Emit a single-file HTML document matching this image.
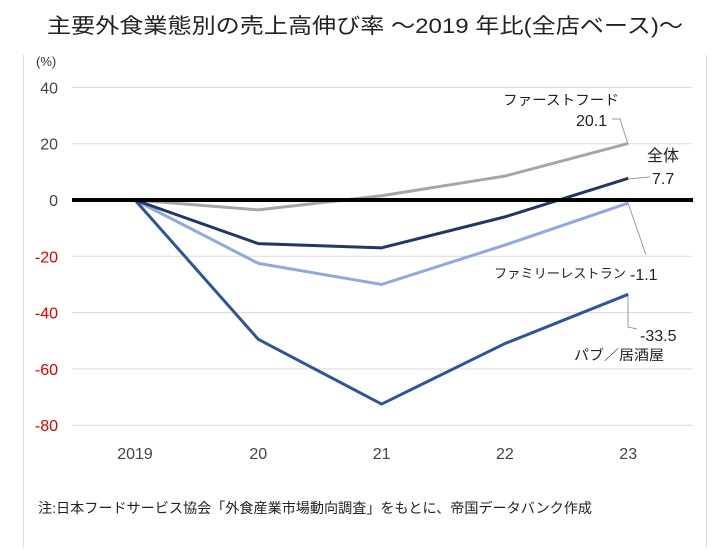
<!DOCTYPE html>
<html><head><meta charset="utf-8"><style>
body{margin:0;background:#fff;width:718px;height:547px;overflow:hidden;font-family:"Liberation Sans","Noto Sans CJK JP",sans-serif}
</style></head><body>
<svg width="718" height="547" viewBox="0 0 718 547" style="font-family:'Liberation Sans','Noto Sans CJK JP',sans-serif">
<text x="47" y="33" font-size="21" fill="#222" textLength="636" lengthAdjust="spacingAndGlyphs">主要外食業態別の売上高伸び率 ～2019 年比(全店ベース)～</text>
<line x1="23.5" y1="55" x2="23.5" y2="547" stroke="#d9d9d9"/>
<line x1="706.5" y1="55" x2="706.5" y2="547" stroke="#d9d9d9"/>
<text x="36" y="66" font-size="13" fill="#333">(%)</text>
<g id="grid"></g><g id="ylab"></g><g id="xlab"></g><g id="lines"></g>
<g font-size="14" fill="#222">
<text x="503" y="105" textLength="116" lengthAdjust="spacingAndGlyphs">ファーストフード</text>
<text x="576" y="126" font-size="16">20.1</text>
<path d="M612 119 L620 119 L628 144" fill="none" stroke="#999" stroke-width="1"/>
<text x="647" y="161" font-size="16">全体</text>
<text x="652" y="184" font-size="16">7.7</text>
<path d="M628 179 L650 177" fill="none" stroke="#999" stroke-width="1"/>
<text x="494" y="278" font-size="13" textLength="132" lengthAdjust="spacingAndGlyphs">ファミリーレストラン</text>
<text x="630" y="280" font-size="16">-1.1</text>
<path d="M628 203 L646 255" fill="none" stroke="#999" stroke-width="1"/>
<text x="640" y="341" font-size="16">-33.5</text>
<text x="574" y="360" font-size="14" textLength="90" lengthAdjust="spacingAndGlyphs">パブ／居酒屋</text>
<path d="M628 296 L628 327 L637 329" fill="none" stroke="#999" stroke-width="1"/>
</g>
<text x="38" y="513" font-size="14" fill="#222" textLength="554" lengthAdjust="spacingAndGlyphs">注:日本フードサービス協会「外食産業市場動向調査」をもとに、帝国データバンク作成</text>
</svg>
<script>
const categories=["2019","20","21","22","23"];
const yTicks=[40,20,0,-20,-40,-60,-80];
const seriesNames=["fastfood","total","family","pub"];
const fastfood=[0,-3.5,1.5,8.5,20.1];
const total=[0,-15.5,-17,-6,7.7];
const family=[0,-22.5,-30,-16,-1.1];
const pub=[0,-49.5,-72.5,-51,-33.5];
const ns="http://www.w3.org/2000/svg";
const xS=i=>135+i*123.3;
const yS=v=>200-v*2.815;
function mk(t,a,p){const e=document.createElementNS(ns,t);for(const k in a)e.setAttribute(k,a[k]);document.getElementById(p).appendChild(e);return e;}
yTicks.forEach(v=>{
 if(v!==0){const g=mk("line",{x1:72,x2:692,y1:yS(v),y2:yS(v),stroke:"#d9d9d9","stroke-width":1},"grid");
 
 }
 const t=mk("text",{x:58,y:yS(v)+6,"text-anchor":"end","font-size":16,fill:v<0?"#e00000":"#444"},"ylab");
 t.textContent=v;
 
 
});
categories.forEach((c,i)=>{
 const t=mk("text",{x:xS(i),y:459,"text-anchor":"middle","font-size":16,fill:"#444"},"xlab");
 t.textContent=c;
 
 
});
const colors={fastfood:"#a6a6a6",total:"#1f3864",family:"#8faadc",pub:"#2f5597"};
const data={fastfood,total,family,pub};
["fastfood","family","pub","total"].forEach(n=>{
 const p=mk("polyline",{points:data[n].map((v,i)=>xS(i)+","+yS(v)).join(" "),fill:"none",stroke:colors[n],"stroke-width":3,"stroke-linejoin":"round"},"lines");
 
 
});
const z=mk("line",{x1:72,x2:693,y1:yS(0),y2:yS(0),stroke:"#000","stroke-width":4},"lines");


</script>
</body></html>
